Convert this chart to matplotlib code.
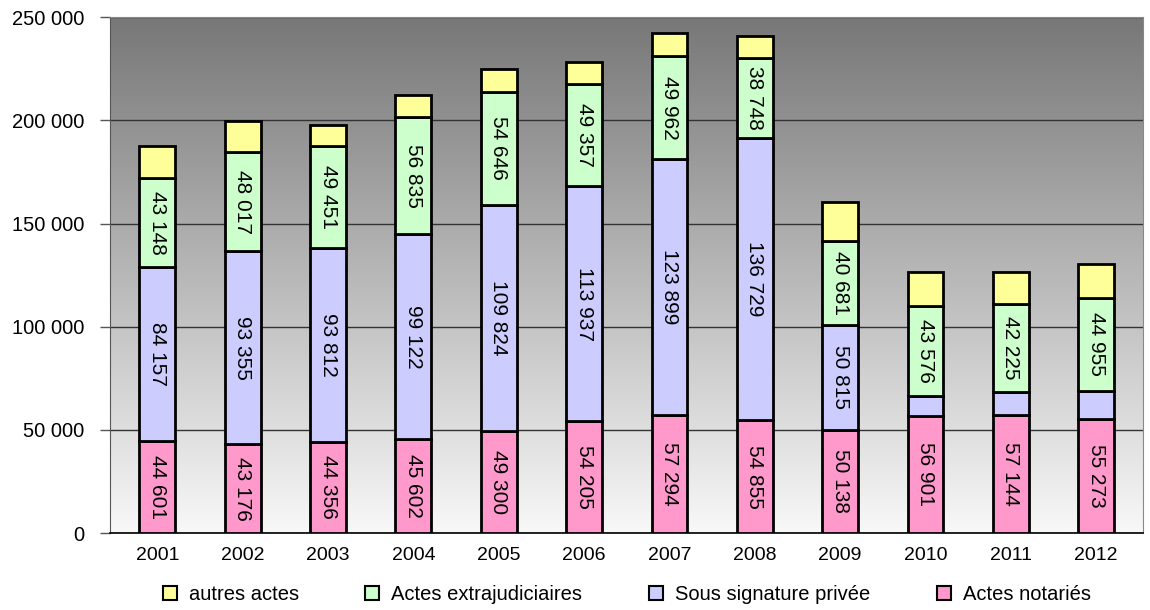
import matplotlib.pyplot as plt
import numpy as np
from matplotlib.ticker import FuncFormatter
from matplotlib.patches import Patch

plt.rcParams['font.family'] = ['Liberation Sans', 'DejaVu Sans']

years = ["2001", "2002", "2003", "2004", "2005", "2006",
         "2007", "2008", "2009", "2010", "2011", "2012"]
notaries = [44601, 43176, 44356, 45602, 49300, 54205, 57294, 54855, 50138, 56901, 57144, 55273]
ssp = [84157, 93355, 93812, 99122, 109824, 113937, 123899, 136729, 50815, 9600, 11400, 13800]
extrajud = [43148, 48017, 49451, 56835, 54646, 49357, 49962, 38748, 40681, 43576, 42225, 44955]
autres = [15600, 15000, 10000, 10500, 11300, 10500, 11300, 10700, 18900, 16400, 15700, 16500]

series = [
    ("Actes notariés", notaries, "#ff99cc", True),
    ("Sous signature privée", ssp, "#ccccff", True),
    ("Actes extrajudiciaires", extrajud, "#ccffcc", True),
    ("autres actes", autres, "#ffff99", False),
]

fig = plt.figure(figsize=(11.5, 6.1), dpi=100)
ax = fig.add_axes([0.096, 0.126, 0.898, 0.846])

# grey gradient background
grad = np.linspace(0, 1, 256).reshape(-1, 1)
cmap = plt.matplotlib.colors.LinearSegmentedColormap.from_list("bg", ["#f8f8f8", "#777777"])
ax.imshow(grad, aspect="auto", cmap=cmap, origin="lower",
          extent=[0, 1, 0, 1], transform=ax.transAxes, zorder=0)

x = np.arange(len(years))
bottom = np.zeros(len(years))
for name, vals, color, labelled in series:
    bars = ax.bar(x, vals, 0.42, bottom=bottom, color=color, edgecolor="black",
                  linewidth=2, label=name, zorder=3)
    if labelled:
        for xi, b, v in zip(x, bottom, vals):
            if v > 30000:
                ax.text(xi, b + v / 2, f"{v:,}".replace(",", " "), rotation=270,
                        ha="center", va="center", fontsize=15, zorder=4)
    bottom += np.array(vals)

ax.set_xlim(-0.55, len(years) - 0.45)
ax.set_ylim(0, 250000)
ax.set_yticks(range(0, 250001, 50000))
ax.yaxis.set_major_formatter(FuncFormatter(lambda v, p: f"{int(v):,}".replace(",", " ")))
ax.set_xticks(x)
ax.set_xticklabels(years)
ax.tick_params(axis="y", labelsize=14.5, length=7, width=1, color="#555555", pad=12)
ax.tick_params(axis="x", labelsize=14, length=0, pad=10)
ax.grid(axis="y", color="#333333", linewidth=1, zorder=1)
ax.set_axisbelow(True)
for s in ["top", "right"]:
    ax.spines[s].set_color("#888888")
ax.spines["left"].set_color("#555555")
ax.spines["bottom"].set_color("black")
ax.spines["bottom"].set_linewidth(1.2)

handles = [Patch(facecolor=c, edgecolor="black", linewidth=1.5, label=n)
           for n, _, c, _ in reversed(series)]
fig.legend(handles=handles, loc="lower center", ncol=4, frameon=False,
           fontsize=14.5, bbox_to_anchor=(0.545, -0.02), handlelength=0.7,
           handleheight=0.7, columnspacing=3.3, handletextpad=0.6)

fig.savefig("out.png", dpi=100)
